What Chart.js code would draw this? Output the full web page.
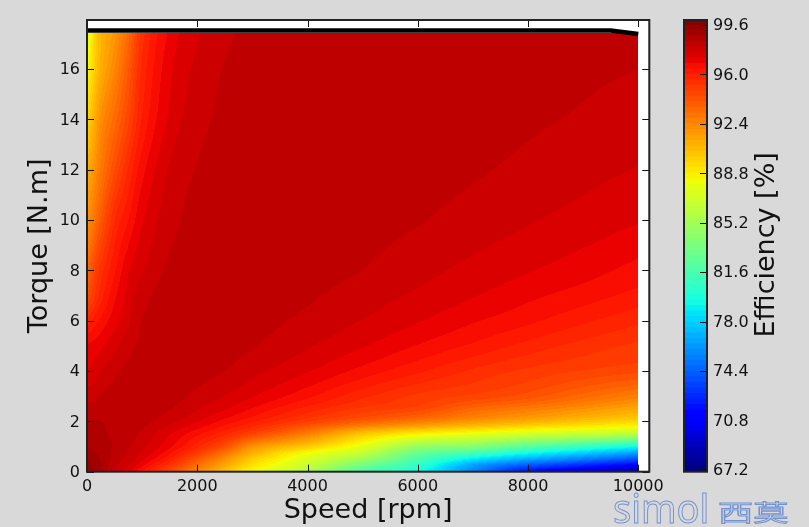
<!DOCTYPE html>
<html>
<head>
<meta charset="utf-8">
<style>
  html, body { margin: 0; padding: 0; background: #d9d9d9; overflow: hidden; }
  #wrap { position: relative; width: 809px; height: 527px; }
  canvas { position: absolute; left: 0; top: 0; }
  .mark { position: absolute; color: transparent; -webkit-text-stroke: 1px #7392d2; white-space: nowrap; transform-origin: left top; }
</style>
<script src="https://cdn.jsdelivr.net/npm/chart.js@4"></script>
</head>
<body>
<div id="wrap">
  <canvas id="chart" width="809" height="527"></canvas>
  <canvas id="bar" width="809" height="527"></canvas>
  <div class="mark" style="left:613px;top:480px;font:40px 'Noto Sans';transform:scaleX(0.95)">simol</div>
  <div class="mark" style="left:718px;top:494px;font:23px 'Noto Sans CJK SC';transform:scaleX(1.53)">西莫</div>
</div>
<script>
// efficiency map
var speeds = [0, 125, 250, 500, 750, 1000, 1500, 2000, 2500, 3000, 4000, 5000, 6000, 7000, 8000, 9000, 10000];
var torques = [0, 0.25, 0.5, 0.75, 1, 1.5, 2, 2.5, 3, 4, 5, 6, 7, 8, 10, 12, 14, 16, 17.45];

var eff_T0 = [99.6, 99.2, 98.8, 97.9, 97.3, 96.3, 94.5, 92.3, 90.3, 88.3, 85.5, 81.5, 79.5, 75.6, 71.5, 69.5, 67.6];
var eff_T025 = [99.4, 99.1, 98.85, 98.1, 97.6, 96.9, 95.3, 93.2, 91.2, 89.2, 86.6, 83.2, 80.5, 76.5, 74, 72.4, 70.8];
var eff_T05 = [99.2, 99, 98.75, 98.25, 97.85, 97.3, 96, 94.1, 92.1, 90, 87.3, 84.9, 81.6, 78.8, 76.8, 75.3, 73.8];
var eff_T075 = [99, 98.85, 98.7, 98.3, 97.95, 97.55, 96.5, 95, 93.1, 91, 88.3, 86.4, 83, 81.4, 79.5, 78, 76.4];
var eff_T1 = [98.8, 98.7, 98.6, 98.35, 98.05, 97.7, 96.9, 95.7, 94.3, 92, 90, 87.7, 84.7, 84, 82.2, 80.8, 79.4];
var eff_T15 = [98.5, 98.5, 98.45, 98.35, 98.2, 97.9, 97.23, 96.5, 95.7, 94.7, 92.6, 90.2, 88.7, 87.9, 87, 86.5, 86];
var eff_T2 = [98.42, 98.42, 98.41, 98.3, 98.25, 98.15, 97.73, 97.23, 96.65, 96.08, 94.9, 93.8, 92.8, 91.8, 91, 90.2, 89.5];
var eff_T25 = [98.1, 98.15, 98.2, 98.25, 98.28, 98.25, 98.03, 97.64, 97.23, 96.77, 95.85, 95.1, 94.6, 93.5, 92.8, 92, 91.2];
var eff_T3 = [97.8, 97.9, 98.05, 98.2, 98.25, 98.3, 98.15, 97.9, 97.58, 97.23, 96.5, 95.7, 95.1, 94.7, 94.2, 93.4, 92.6];
var eff_T4 = [97.2, 97.35, 97.62, 97.9, 98.15, 98.25, 98.27, 98.15, 98, 97.73, 97.23, 96.65, 96.08, 95.53, 95.1, 94.77, 94.5];
var eff_T5 = [96.85, 96.95, 97.1, 97.5, 97.85, 98.1, 98.25, 98.25, 98.15, 98.03, 97.64, 97.23, 96.77, 96.32, 95.85, 95.44, 95.1];
var eff_T6 = [95.7, 96.15, 96.5, 97.05, 97.55, 98.02, 98.25, 98.3, 98.23, 98.15, 97.9, 97.58, 97.23, 96.85, 96.5, 96.08, 95.7];
var eff_T7 = [94.3, 95.1, 95.8, 96.7, 97.35, 97.85, 98.2, 98.28, 98.3, 98.22, 98.06, 97.8, 97.53, 97.23, 96.9, 96.6, 96.25];
var eff_T8 = [93.4, 94.6, 95.4, 96.35, 97.15, 97.58, 98.1, 98.25, 98.3, 98.27, 98.15, 98, 97.73, 97.48, 97.23, 96.97, 96.65];
var eff_T10 = [92, 93, 94, 95.6, 96.4, 97.15, 97.85, 98.15, 98.25, 98.3, 98.25, 98.15, 98.03, 97.83, 97.64, 97.44, 97.23];
var eff_T12 = [91, 91.9, 92.9, 94.4, 95.65, 96.65, 97.65, 98.03, 98.2, 98.3, 98.3, 98.23, 98.15, 98.05, 97.9, 97.73, 97.58];
var eff_T14 = [89.6, 90.9, 92.1, 93.4, 94.7, 96.05, 97.3, 97.85, 98.1, 98.25, 98.3, 98.28, 98.22, 98.15, 98.06, 97.95, 97.8];
var eff_T16 = [88.2, 89.8, 91, 92.4, 94, 95.7, 97.1, 97.7, 98.03, 98.2, 98.3, 98.3, 98.27, 98.21, 98.15, 98.07, 98];
var eff_T1745 = [87, 89.5, 90.7, 91.8, 93.4, 95.4, 96.9, 97.55, 97.9, 98.1, 98.3, 98.3, 98.3, 98.25, 98.19, 98.13, 98.06];

var effRows = [eff_T0, eff_T025, eff_T05, eff_T075, eff_T1, eff_T15, eff_T2, eff_T25, eff_T3, eff_T4,
               eff_T5, eff_T6, eff_T7, eff_T8, eff_T10, eff_T12, eff_T14, eff_T16, eff_T1745];

// limit curve on top of the map
var limitSpeed = [0, 9500, 10000];
var limitTorque = [17.53, 17.53, 17.39];

// tick labels
var speedTicks = [0, 2000, 4000, 6000, 8000, 10000];
var torqueTicks = [0, 2, 4, 6, 8, 10, 12, 14, 16];
var barTicks = [67.2, 70.8, 74.4, 78, 81.6, 85.2, 88.8, 92.4, 96, 99.6];

// contour levels, same as the colorbar bands
var levels = [67.1, 67.6, 68, 68.4, 68.8, 69.2, 69.6, 70, 70.4, 70.8, 71.2, 71.6, 72, 72.4, 72.8, 73.2, 73.6,
              74, 74.4, 74.8, 75.2, 75.6, 76, 76.4, 76.8, 77.2, 77.6, 78, 78.4, 78.8, 79.2, 79.6, 80, 80.4,
              80.8, 81.2, 81.6, 82, 82.4, 82.8, 83.2, 83.6, 84, 84.4, 84.8, 85.2, 85.6, 86, 86.4, 86.8, 87.2,
              87.6, 88, 88.4, 88.8, 89.2, 89.6, 90, 90.4, 90.8, 91.2, 91.6, 92, 92.4, 92.8, 93.2, 93.6, 94,
              94.4, 94.8, 95.2, 95.6, 96, 96.4, 96.8, 97.2, 97.6, 98, 98.4, 98.8, 99.2, 99.6, 100];

// matplotlib jet
function ramp(t, pts) {
    for (var i = 1; i < pts.length; i++) {
        if (t <= pts[i][0]) {
            var a = pts[i - 1], b = pts[i];
            return a[1] + (b[1] - a[1]) * (t - a[0]) / (b[0] - a[0]);
        }
    }
    return pts[pts.length - 1][1];
}
function jet(t) {
    return [
        Math.round(255 * ramp(t, [[0, 0], [0.35, 0], [0.66, 1], [0.89, 1], [1, 0.5]])),
        Math.round(255 * ramp(t, [[0, 0], [0.125, 0], [0.375, 1], [0.64, 1], [0.91, 0], [1, 0]])),
        Math.round(255 * ramp(t, [[0, 0.5], [0.11, 1], [0.34, 1], [0.65, 0], [1, 0]]))
    ];
}
var bandColors = levels.slice(1).map(function (hi, i) {
    var mid = (levels[i] + hi) / 2;
    return jet(Math.min(1, Math.max(0, (mid - 67.2) / 32.8)));
});

function findCell(arr, v) {
    var i = 0;
    while (i < arr.length - 2 && v > arr[i + 1]) i++;
    return i;
}
// cubic hermite between the grid values, bilinear gave visible kinks
function hermite(xs, ys, i, x) {
    var last = xs.length - 1;
    var h = xs[i + 1] - xs[i], u = (x - xs[i]) / h;
    var m0 = (ys[i + 1] - ys[Math.max(0, i - 1)]) / (xs[i + 1] - xs[Math.max(0, i - 1)]);
    var m1 = (ys[Math.min(last, i + 2)] - ys[i]) / (xs[Math.min(last, i + 2)] - xs[i]);
    var u2 = u * u, u3 = u2 * u;
    return (2 * u3 - 3 * u2 + 1) * ys[i] + (u3 - 2 * u2 + u) * h * m0 +
           (-2 * u3 + 3 * u2) * ys[i + 1] + (u3 - u2) * h * m1;
}
function effAt(speed, torque) {
    var i = findCell(speeds, speed), j = findCell(torques, torque);
    var col = [];
    for (var k = 0; k < torques.length; k++) {
        col.push(Math.abs(k - j) <= 2 ? hermite(speeds, effRows[k], i, speed) : 0);
    }
    return hermite(torques, col, j, torque);
}
function bandOf(v) {
    for (var k = 0; k < bandColors.length; k++) {
        if (v < levels[k + 1]) return k;
    }
    return bandColors.length - 1;
}

var contourPlugin = {
    id: 'contour',
    beforeDatasetsDraw: function (chart) {
        var ctx = chart.ctx, sx = chart.scales.x, sy = chart.scales.y, a = chart.chartArea;
        ctx.fillStyle = '#ffffff';
        ctx.fillRect(a.left, a.top, a.right - a.left, a.bottom - a.top);
        var x0 = Math.round(sx.getPixelForValue(speeds[0]));
        var x1 = Math.round(sx.getPixelForValue(speeds[speeds.length - 1]));
        var y0 = Math.round(sy.getPixelForValue(torques[torques.length - 1]));
        var y1 = Math.round(a.bottom);
        var img = ctx.createImageData(x1 - x0, y1 - y0);
        var n = 0;
        for (var py = y0; py < y1; py++) {
            var t = Math.max(0, sy.getValueForPixel(py + 0.5));
            for (var px = x0; px < x1; px++) {
                var s = sx.getValueForPixel(px + 0.5);
                var c = bandColors[bandOf(effAt(s, t))];
                img.data[n++] = c[0];
                img.data[n++] = c[1];
                img.data[n++] = c[2];
                img.data[n++] = 255;
            }
        }
        ctx.putImageData(img, x0, y0);
    }
};

// inward ticks on every side plus the frame, like the old matplotlib style
function drawFrame(chart, sides) {
    var ctx = chart.ctx, a = chart.chartArea;
    ctx.save();
    ctx.strokeStyle = '#111111';
    ctx.lineWidth = 1;
    ctx.beginPath();
    if (sides.x) {
        sides.x.ticks.forEach(function (tk) {
            var p = Math.round(sides.x.getPixelForValue(tk.value)) + 0.5;
            ctx.moveTo(p, a.bottom); ctx.lineTo(p, a.bottom - 7);
            ctx.moveTo(p, a.top); ctx.lineTo(p, a.top + 7);
        });
    }
    sides.y.ticks.forEach(function (tk) {
        var p = Math.round(sides.y.getPixelForValue(tk.value)) + 0.5;
        if (sides.x) { ctx.moveTo(a.left, p); ctx.lineTo(a.left + 7, p); }
        ctx.moveTo(a.right, p); ctx.lineTo(a.right - 7, p);
    });
    ctx.stroke();
    ctx.strokeStyle = '#222222';
    ctx.lineWidth = 2;
    ctx.strokeRect(a.left, a.top, a.right - a.left, a.bottom - a.top);
    ctx.restore();
}

var framePlugin = {
    id: 'frame',
    afterDraw: function (chart) {
        drawFrame(chart, { x: chart.scales.x, y: chart.scales.y });
    }
};

function useTicks(values) {
    return function (scale) {
        scale.ticks = values.map(function (v) { return { value: v }; });
    };
}

new Chart(document.getElementById('chart').getContext('2d'), {
    type: 'line',
    data: {
        datasets: [{
            data: limitSpeed.map(function (s, i) { return { x: s, y: limitTorque[i] }; }),
            borderColor: '#000000',
            borderWidth: 4.5,
            pointRadius: 0,
            tension: 0,
            fill: false
        }]
    },
    plugins: [contourPlugin, framePlugin],
    options: {
        responsive: false,
        animation: false,
        layout: { padding: { left: 0, top: 20, right: 159.7, bottom: 0 } },
        plugins: { legend: { display: false }, tooltip: { enabled: false } },
        scales: {
            x: {
                type: 'linear',
                min: 0,
                max: 10200,
                afterFit: function (scale) { scale.height = 55.3; },
                afterBuildTicks: useTicks(speedTicks),
                grid: { display: false, drawTicks: false },
                border: { display: false },
                ticks: {
                    maxRotation: 0,
                    padding: 6,
                    color: '#111111',
                    font: { family: 'DejaVu Sans', size: 16 },
                    callback: function (v) { return String(v); }
                },
                title: {
                    display: true,
                    text: 'Speed [rpm]',
                    color: '#111111',
                    font: { family: 'DejaVu Sans', size: 27 },
                    padding: { top: 0, bottom: 0 }
                }
            },
            y: {
                min: 0,
                max: 17.95,
                afterFit: function (scale) { scale.width = 87; },
                afterBuildTicks: useTicks(torqueTicks),
                grid: { display: false, drawTicks: false },
                border: { display: false },
                ticks: {
                    padding: 7,
                    labelOffset: 1,
                    color: '#111111',
                    font: { family: 'DejaVu Sans', size: 16 },
                    callback: function (v) { return String(v); }
                },
                title: {
                    display: true,
                    text: 'Torque [N.m]',
                    color: '#111111',
                    font: { family: 'DejaVu Sans', size: 27 },
                    padding: { top: 24, bottom: 0 }
                }
            }
        }
    }
});

// colorbar: one floating bar per contour band
var barFrame = {
    id: 'barFrame',
    afterDraw: function (chart) {
        drawFrame(chart, { y: chart.scales.y });
        var ctx = chart.ctx;
        ctx.save();
        ctx.translate(767, (chart.chartArea.top + chart.chartArea.bottom) / 2 - 1);
        ctx.rotate(-Math.PI / 2);
        ctx.textAlign = 'center';
        ctx.textBaseline = 'middle';
        ctx.fillStyle = '#111111';
        ctx.font = "27px 'DejaVu Sans'";
        ctx.fillText('Efficiency [%]', 0, 0);
        ctx.restore();
    }
};

new Chart(document.getElementById('bar').getContext('2d'), {
    type: 'bar',
    data: {
        labels: ['Efficiency'],
        datasets: levels.slice(1).map(function (hi, i) {
            var c = bandColors[i];
            return {
                data: [[levels[i], hi]],
                backgroundColor: 'rgb(' + c[0] + ',' + c[1] + ',' + c[2] + ')',
                barPercentage: 1,
                categoryPercentage: 1
            };
        })
    },
    plugins: [barFrame],
    options: {
        responsive: false,
        animation: false,
        layout: { padding: { left: 684, top: 20, right: 0, bottom: 55.3 } },
        plugins: { legend: { display: false }, tooltip: { enabled: false } },
        scales: {
            x: { display: false, stacked: true },
            y: {
                position: 'right',
                min: 67.09,
                max: 99.96,
                afterFit: function (scale) { scale.width = 102; },
                afterBuildTicks: useTicks(barTicks),
                grid: { display: false, drawTicks: false },
                border: { display: false },
                ticks: {
                    padding: 6,
                    labelOffset: 1,
                    color: '#111111',
                    font: { family: 'DejaVu Sans', size: 16 },
                    callback: function (v) { return Number(v).toFixed(1); }
                }
            }
        }
    }
});
</script>
</body>
</html>
